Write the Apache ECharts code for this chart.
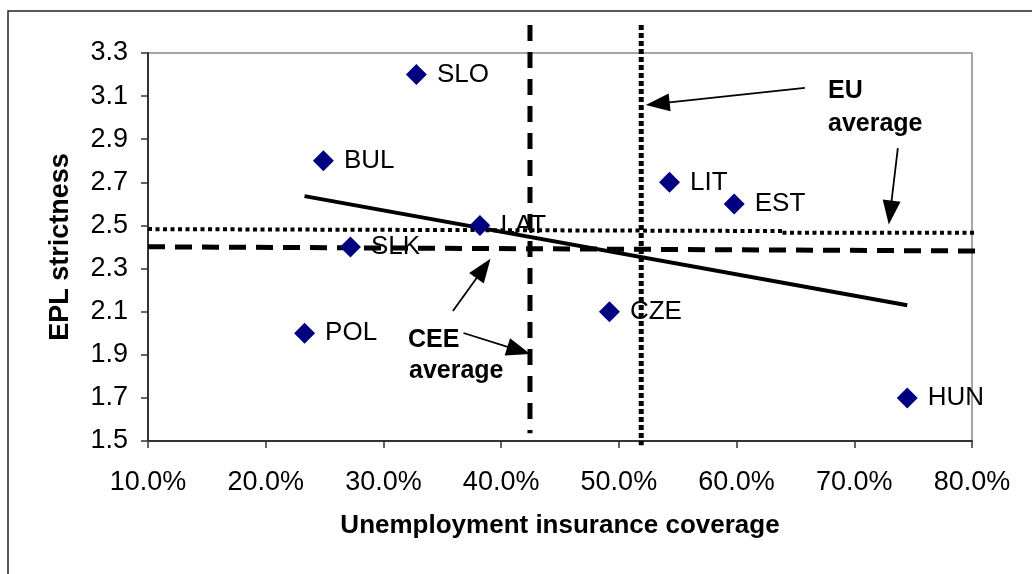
<!DOCTYPE html>
<html>
<head>
<meta charset="utf-8">
<script src="https://cdn.jsdelivr.net/npm/echarts@6/dist/echarts.min.js"></script>
<style>
html,body{margin:0;padding:0;background:#fff;}
#chart{width:1032px;height:574px;}
</style>
</head>
<body>
<div id="chart"></div>
<script>
// ---- data ----
const countries = ['SLO', 'BUL', 'SLK', 'POL', 'LAT', 'CZE', 'LIT', 'EST', 'HUN'];
const coverage  = [32.8, 24.9, 27.2, 23.3, 38.2, 49.2, 54.3, 59.8, 74.5]; // %
const epl       = [3.2, 2.8, 2.4, 2.0, 2.5, 2.1, 2.7, 2.6, 1.7];

// averages (reference lines)
const ceeAvgCoverage = 42.45;
const euAvgCoverage  = 51.9;
const ceeAvgEpl = [2.401, 2.381];          // slightly sloped as drawn
const euAvgEpl  = [2.483, 2.474, 2.466];   // drawn in two pieces
const euAvgBreak = 63.9;
const refLineSpanX = [10, 81.7];
const ceeVertSpanY = [3.43, 1.536];
const euVertSpanY  = [3.43, 1.48];

// axis ticks
const xTicks = {min: 10, max: 80, step: 10};
const yTicks = {min: 1.5, max: 3.3, step: 0.2};

// annotation arrows [from, to] in data coords
const euArrows  = [[[65.8, 3.138], [53.3, 3.065]], [[73.7, 2.859], [73.05, 2.56]]];
const ceeArrows = [[[35.9, 2.103], [38.5, 2.30]], [[36.8, 2.001], [41.5, 1.92]]];

// ---- linear trend from the data ----
const n = coverage.length;
const mx = coverage.reduce((a, b) => a + b, 0) / n;
const my = epl.reduce((a, b) => a + b, 0) / n;
let sxy = 0, sxx = 0;
for (let i = 0; i < n; i++) { sxy += (coverage[i] - mx) * (epl[i] - my); sxx += (coverage[i] - mx) ** 2; }
const slope = sxy / sxx, icpt = my - slope * mx;
const xMin = Math.min(...coverage), xMax = Math.max(...coverage);
const trend = [[xMin, icpt + slope * xMin], [xMax, icpt + slope * xMax]];

const FONT = '"Liberation Sans", Arial, sans-serif';

const chart = echarts.init(document.getElementById('chart'), null, {renderer: 'canvas'});

function arrowLines(list) {
  return list.map(a => [{coord: a[0]}, {coord: a[1]}]);
}

const option = {
  backgroundColor: '#fff',
  animation: false,
  grid: {left: 148, right: 60, top: 53, bottom: 133, show: true, borderColor: '#888', borderWidth: 1.5, backgroundColor: 'transparent'},
  xAxis: {
    type: 'value', min: xTicks.min, max: xTicks.max, interval: xTicks.step,
    name: 'Unemployment insurance coverage', nameLocation: 'middle', nameGap: 72,
    nameTextStyle: {fontFamily: FONT, fontSize: 26, fontWeight: 'bold', color: '#000'},
    axisLine: {show: true, lineStyle: {color: '#333', width: 2}},
    axisTick: {show: true, inside: false, length: 7, lineStyle: {color: '#333', width: 1.5}},
    axisLabel: {fontFamily: FONT, fontSize: 27, color: '#000', margin: 28, formatter: v => v.toFixed(1) + '%'},
    splitLine: {show: false}
  },
  yAxis: {
    type: 'value', min: yTicks.min, max: yTicks.max, interval: yTicks.step,
    name: 'EPL strictness', nameLocation: 'middle', nameGap: 74, nameRotate: 90,
    nameTextStyle: {fontFamily: FONT, fontSize: 27, fontWeight: 'bold', color: '#000'},
    axisLine: {show: true, lineStyle: {color: '#333', width: 2}},
    axisTick: {show: true, inside: false, length: 7, lineStyle: {color: '#333', width: 1.5}},
    axisLabel: {fontFamily: FONT, fontSize: 27, color: '#000', margin: 20, formatter: v => v.toFixed(1)},
    splitLine: {show: false}
  },
  series: [
    {
      type: 'line', name: 'CEE avg vertical', clip: false, symbol: 'none', z: 3,
      data: [[ceeAvgCoverage, ceeVertSpanY[0]], [ceeAvgCoverage, ceeVertSpanY[1]]],
      lineStyle: {color: '#000', width: 5, type: [16, 11], cap: 'butt'}
    },
    {
      type: 'line', name: 'EU avg vertical', clip: false, symbol: 'none', z: 3,
      data: [[euAvgCoverage, euVertSpanY[0]], [euAvgCoverage, euVertSpanY[1]]],
      lineStyle: {color: '#000', width: 5, type: [5, 3], cap: 'butt'}
    },
    {
      type: 'line', name: 'CEE avg horizontal', clip: false, symbol: 'none', z: 3,
      data: [[refLineSpanX[0], ceeAvgEpl[0]], [refLineSpanX[1], ceeAvgEpl[1]]],
      lineStyle: {color: '#000', width: 5, type: [17, 10], cap: 'butt'}
    },
    {
      type: 'line', name: 'EU avg horizontal a', clip: false, symbol: 'none', z: 3,
      data: [[refLineSpanX[0], euAvgEpl[0]], [euAvgBreak, euAvgEpl[1]]],
      lineStyle: {color: '#000', width: 4, type: [4, 3.5], cap: 'butt'}
    },
    {
      type: 'line', name: 'EU avg horizontal b', clip: false, symbol: 'none', z: 3,
      data: [[euAvgBreak, euAvgEpl[2]], [refLineSpanX[1], euAvgEpl[2]]],
      lineStyle: {color: '#000', width: 4, type: [4, 3.5], cap: 'butt'}
    },
    {
      type: 'line', name: 'trend', symbol: 'none', z: 4,
      data: trend,
      lineStyle: {color: '#000', width: 4}
    },
    {
      type: 'scatter', name: 'countries', z: 5,
      symbol: 'diamond', symbolSize: [21, 21],
      itemStyle: {color: '#000080', opacity: 1},
      data: coverage.map((x, i) => ({value: [x, epl[i]], name: countries[i]})),
      label: {show: true, position: 'right', distance: 10, formatter: p => p.name,
              fontFamily: FONT, fontSize: 26, color: '#000', opacity: 1}
    },
    {
      type: 'scatter', name: 'arrows', data: [], z: 6,
      markLine: {
        silent: true, animation: false,
        symbol: ['none', 'triangle'], symbolSize: [18, 24],
        label: {show: false},
        lineStyle: {color: '#000', width: 1.8, type: 'solid', opacity: 1},
        data: arrowLines(euArrows).concat(arrowLines(ceeArrows))
      }
    }
  ],
  graphic: [
    {type: 'rect', shape: {x: 8, y: 11, width: 1200, height: 800}, style: {fill: 'none', stroke: '#222', lineWidth: 1.5}, z: 0, silent: true},
    {type: 'text', x: 828, y: 91, style: {text: 'EU', font: 'bold 25px ' + FONT, fill: '#000', verticalAlign: 'middle'}},
    {type: 'text', x: 828, y: 124, style: {text: 'average', font: 'bold 25px ' + FONT, fill: '#000', verticalAlign: 'middle'}},
    {type: 'text', x: 408, y: 340, style: {text: 'CEE', font: 'bold 25px ' + FONT, fill: '#000', verticalAlign: 'middle'}},
    {type: 'text', x: 409, y: 371, style: {text: 'average', font: 'bold 25px ' + FONT, fill: '#000', verticalAlign: 'middle'}}
  ]
};
chart.setOption(option);
</script>
</body>
</html>
